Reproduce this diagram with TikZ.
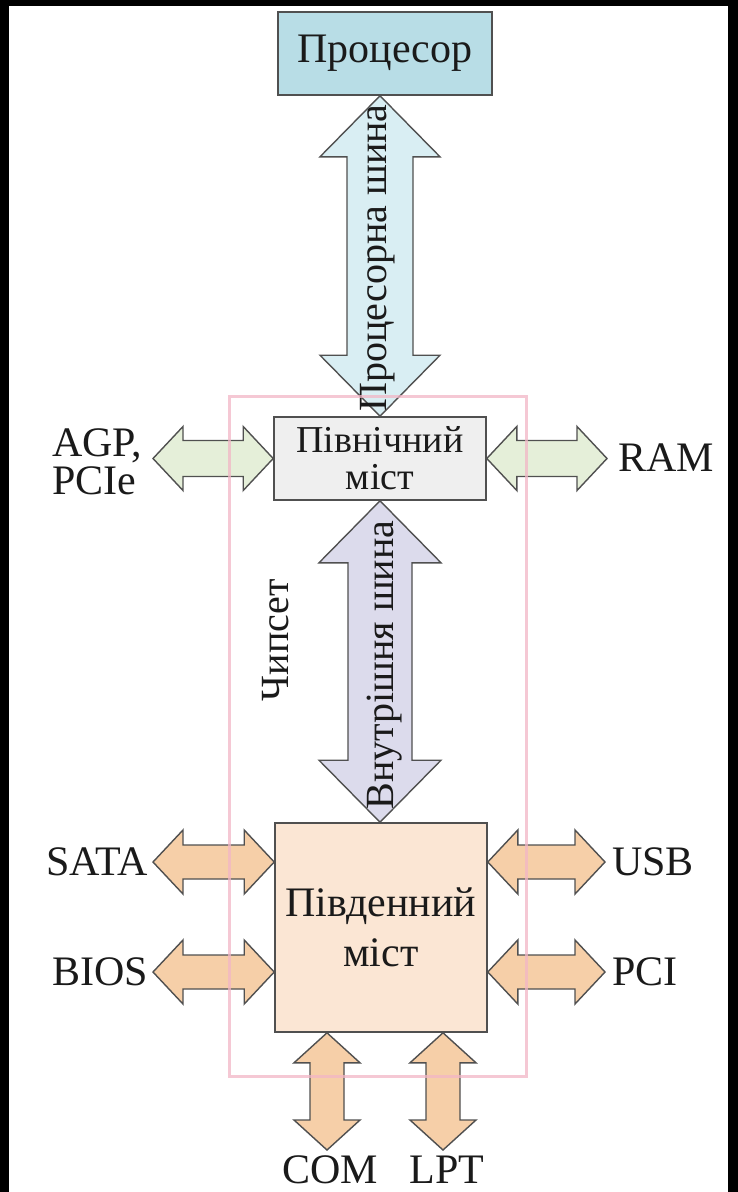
\documentclass[tikz,border=0pt]{standalone}
\usepackage{fontspec}
\setmainfont{Liberation Serif}
\usetikzlibrary{calc}

\definecolor{cpufill}{HTML}{B8DDE6}
\definecolor{cpubusfill}{HTML}{D9EEF3}
\definecolor{nbfill}{HTML}{EFEFEF}
\definecolor{nbbusfill}{HTML}{E5EFD9}
\definecolor{intbusfill}{HTML}{DCDBEC}
\definecolor{sbfill}{HTML}{FBE6D4}
\definecolor{sbbusfill}{HTML}{F6CFA8}
\definecolor{chipline}{HTML}{F2B6C6}
\definecolor{edge}{HTML}{505050}
\definecolor{ink}{HTML}{1A1A1A}

\tikzstyle{blk} = [draw=edge, line width=1.6pt, text=ink, inner sep=0, align=center, font=\fontsize{38}{37}\selectfont]
\tikzstyle{bus} = [draw=edge, line width=1.4pt, line join=miter]
\tikzstyle{lbl} = [text=ink, inner sep=0, font=\fontsize{42}{38}\selectfont]
\tikzstyle{vlbl} = [lbl, rotate=90, font=\fontsize{40}{40}\selectfont]
\tikzstyle{chip} = [draw=chipline, line width=3pt, opacity=0.75]

% vertical double arrow: style, top, bottom, head half width, shaft half width, head length
\newcommand{\vbus}[6]{%
  \draw[#1] let \p1=#2, \p2=#3 in
    (\x1,\y1) -- (\x1+#4,\y1-#6) -- (\x1+#5,\y1-#6) -- (\x1+#5,\y2+#6) -- (\x1+#4,\y2+#6) -- (\x1,\y2)
    -- (\x1-#4,\y2+#6) -- (\x1-#5,\y2+#6) -- (\x1-#5,\y1-#6) -- (\x1-#4,\y1-#6) -- cycle;}
% horizontal double arrow: style, left, right, head half height, shaft half height, head length
\newcommand{\hbus}[6]{%
  \draw[#1] let \p1=#2, \p2=#3 in
    (\x1,\y1) -- (\x1+#6,\y1+#4) -- (\x1+#6,\y1+#5) -- (\x2-#6,\y1+#5) -- (\x2-#6,\y1+#4) -- (\x2,\y1)
    -- (\x2-#6,\y1-#4) -- (\x2-#6,\y1-#5) -- (\x1+#6,\y1-#5) -- (\x1+#6,\y1-#4) -- cycle;}

\begin{document}
\begin{tikzpicture}[x=1pt,y=-1pt]

%Frame
	\useasboundingbox (0,0) rectangle (738,1192);
	\fill[white] (0,0) rectangle (738,1192);
	\fill[black] (0,0) rectangle (738,6);
	\fill[black] (0,0) rectangle (9,1192);
	\fill[black] (728,0) rectangle (738,1192);

%Nodes
	\node[blk, fill=cpufill, minimum width=214pt, minimum height=83pt, font=\fontsize{42}{42}\selectfont] (cpu) at (385,53.5) {Процесор};
	\node[blk, fill=nbfill, minimum width=212pt, minimum height=83pt] (nb) at (380,458.5) {Північний\\міст};
	\node[blk, fill=sbfill, minimum width=212pt, minimum height=209pt, font=\fontsize{42}{50}\selectfont] (sb) at (381,927.5) {Південний\\міст};

	\coordinate (agp) at (153,458.5);
	\coordinate (ram) at (607,458.5);
	\coordinate (sata) at (153,862);
	\coordinate (bios) at (153,972);
	\coordinate (usb) at (605,862);
	\coordinate (pci) at (605,972);
	\coordinate (com) at (327,1150);
	\coordinate (lpt) at (443,1150);

	\node[lbl, anchor=west, align=left] (agptxt) at (52,462) {AGP,\\PCIe};
	\node[lbl, anchor=west] (ramtxt) at (618,458) {RAM};
	\node[lbl, anchor=east] (satatxt) at (148,862) {SATA};
	\node[lbl, anchor=east] (biostxt) at (148,972) {BIOS};
	\node[lbl, anchor=west] (usbtxt) at (612,862) {USB};
	\node[lbl, anchor=west] (pcitxt) at (612,972) {PCI};
	\node[lbl] (comtxt) at (330,1170) {COM};
	\node[lbl] (lpttxt) at (447,1170) {LPT};

%Connections
	\vbus{bus, fill=cpubusfill}{(cpu.south -| nb.north)}{(nb.north)}{60pt}{33pt}{61pt}
	\vbus{bus, fill=intbusfill}{(nb.south)}{(sb.north)}{61pt}{32pt}{62pt}
	\hbus{bus, fill=nbbusfill}{(agp)}{(nb.west)}{32pt}{18pt}{30pt}
	\hbus{bus, fill=nbbusfill}{(nb.east)}{(ram)}{32pt}{18pt}{30pt}
	\hbus{bus, fill=sbbusfill}{(sata)}{(sb.west |- sata)}{32pt}{17pt}{30pt}
	\hbus{bus, fill=sbbusfill}{(bios)}{(sb.west |- bios)}{32pt}{17pt}{30pt}
	\hbus{bus, fill=sbbusfill}{(sb.east |- usb)}{(usb)}{32pt}{17pt}{30pt}
	\hbus{bus, fill=sbbusfill}{(sb.east |- pci)}{(pci)}{32pt}{17pt}{30pt}
	\vbus{bus, fill=sbbusfill}{(sb.south -| com)}{(com)}{33pt}{17pt}{30pt}
	\vbus{bus, fill=sbbusfill}{(sb.south -| lpt)}{(lpt)}{33pt}{17pt}{30pt}

	\node[vlbl] (cpubustxt) at (378,258) {Процесорна шина};
	\node[vlbl] (intbustxt) at (385,665) {Внутрішня шина};

%Chipset
	\draw[chip] (229,396) rectangle (526,1076);
	\node[vlbl] (chiptxt) at (276,640) {Чипсет};

\end{tikzpicture}
\end{document}
